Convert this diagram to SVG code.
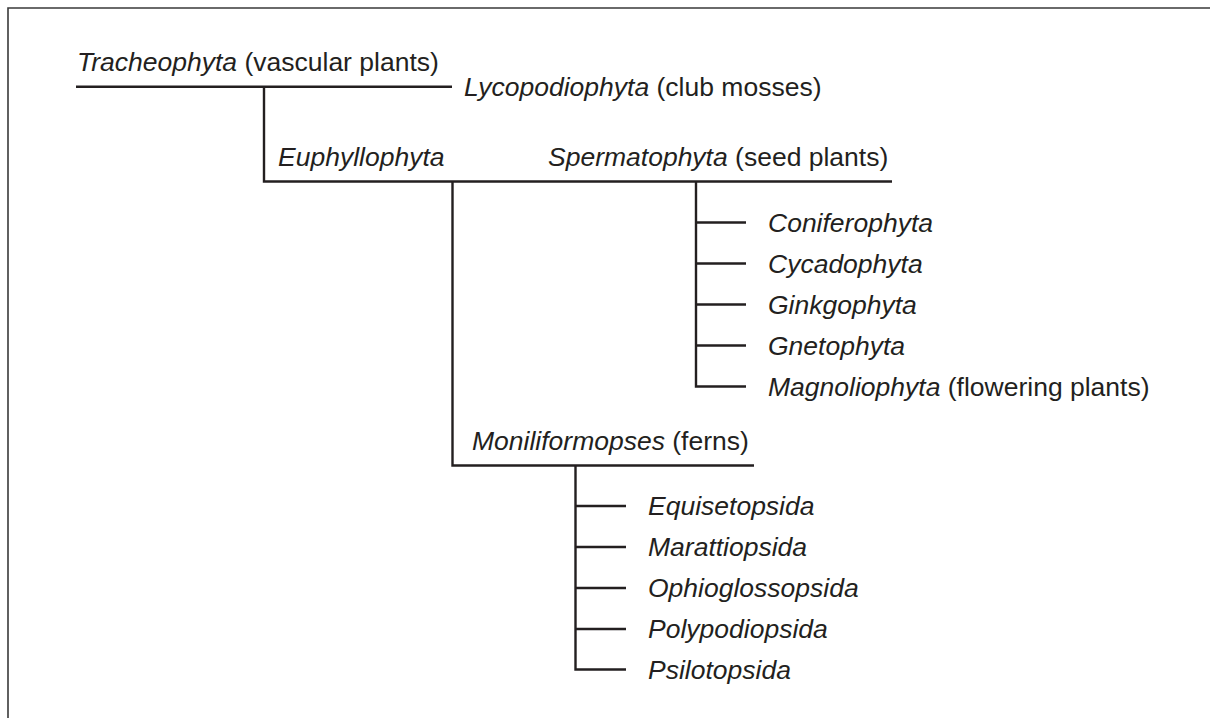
<svg xmlns="http://www.w3.org/2000/svg" width="1210" height="718" viewBox="0 0 1210 718">
<style>
.ln{stroke:#231f20;stroke-width:2.4;fill:none;stroke-linecap:butt}
.bd{stroke:#3a3a3a;stroke-width:1.6;fill:none}
text{font-family:"Liberation Sans",Arial,sans-serif;font-size:26.5px;fill:#231f20}
.i{font-style:italic}
</style>
<rect width="1210" height="718" fill="#ffffff"/>
<path class="bd" d="M8,718 V8 H1210"/>
<g id="connectors">
<path class="ln" d="M76,86.7 H452 M264,86.7 V181.5 H892 M452.5,181.5 V465.5 H754 M696,181.5 V386.5 H746 M696,222.5 H746 M696,263.5 H746 M696,304.5 H746 M696,345.5 H746 M575.5,465.5 V669.5 H626 M575.5,506 H626 M575.5,547 H626 M575.5,588 H626 M575.5,629 H626"/>
</g>
<g id="tracheophyta"><text x="77" y="71"><tspan class="i">Tracheophyta</tspan> (vascular plants)</text></g>
<g id="lycopodiophyta"><text x="464" y="96"><tspan class="i">Lycopodiophyta</tspan> (club mosses)</text></g>
<g id="euphyllophyta"><text x="278" y="165.5" class="i">Euphyllophyta</text></g>
<g id="spermatophyta"><text x="548" y="165.5"><tspan class="i">Spermatophyta</tspan> (seed plants)</text></g>
<g id="coniferophyta"><text x="768" y="231.5" class="i">Coniferophyta</text></g>
<g id="cycadophyta"><text x="768" y="272.5" class="i">Cycadophyta</text></g>
<g id="ginkgophyta"><text x="768" y="313.5" class="i">Ginkgophyta</text></g>
<g id="gnetophyta"><text x="768" y="354.5" class="i">Gnetophyta</text></g>
<g id="magnoliophyta"><text x="768" y="395.5"><tspan class="i">Magnoliophyta</tspan> (flowering plants)</text></g>
<g id="moniliformopses"><text x="472" y="449.5"><tspan class="i">Moniliformopses</tspan> (ferns)</text></g>
<g id="equisetopsida"><text x="648" y="515" class="i">Equisetopsida</text></g>
<g id="marattiopsida"><text x="648" y="556" class="i">Marattiopsida</text></g>
<g id="ophioglossopsida"><text x="648" y="597" class="i">Ophioglossopsida</text></g>
<g id="polypodiopsida"><text x="648" y="638" class="i">Polypodiopsida</text></g>
<g id="psilotopsida"><text x="648" y="678.5" class="i">Psilotopsida</text></g>
</svg>
